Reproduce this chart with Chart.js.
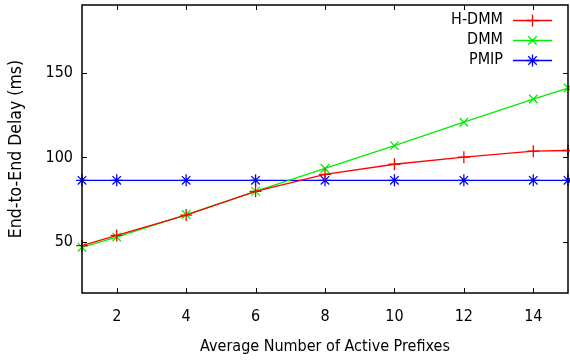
<!DOCTYPE html>
<html>
<head>
<meta charset="utf-8">
<script src="https://cdn.jsdelivr.net/npm/chart.js@4/dist/chart.umd.min.js"></script>
<style>
  html, body { margin: 0; padding: 0; background: #fff; }
  #wrap { width: 570px; height: 360px; }
</style>
</head>
<body>
<div id="wrap"><canvas id="chart" width="570" height="360"></canvas></div>
<script>
// ---------------- DATA ----------------
const prefixes = [1, 2, 4, 6, 8, 10, 12, 14, 15];
const hdmm = [48, 54, 66, 80, 90, 96, 100.2, 103.7, 104.1];
const dmm = [47, 53, 66.3, 80, 93.5, 107, 120.8, 134.5, 141];
const pmip = [86.5, 86.5, 86.5, 86.5, 86.5, 86.5, 86.5, 86.5, 86.5];
const xTicks = [2, 4, 6, 8, 10, 12, 14];
const yTicks = [50, 100, 150];

const FONT = "'DejaVu Sans Condensed', 'DejaVu Sans', sans-serif";

function toPoints(ys) {
  return prefixes.map((x, i) => ({ x: x, y: ys[i] }));
}

function series(label, ys, color, style) {
  return {
    label,
    data: toPoints(ys),
    borderColor: color,
    backgroundColor: color,
    borderWidth: 1.3,
    pointStyle: style,
    pointRadius: 6,
    pointBorderWidth: 1.3,
    pointBorderColor: color,
    fill: false,
    tension: 0,
    clip: false,
  };
}

// ---------------- FRAME + TICKS + LEGEND ----------------
const framePlugin = {
  id: "frame",
  afterDatasetsDraw(chart) {
    const { ctx, chartArea: a, scales } = chart;
    ctx.save();
    ctx.strokeStyle = "#000";
    ctx.lineWidth = 1.5;
    ctx.strokeRect(a.left, a.top, a.right - a.left, a.bottom - a.top);

    // inward ticks on all four sides
    const len = 5;
    ctx.lineWidth = 1;
    ctx.beginPath();
    xTicks.forEach((t) => {
      const px = Math.round(scales.x.getPixelForValue(t)) + 0.5;
      ctx.moveTo(px, a.bottom);
      ctx.lineTo(px, a.bottom - len);
      ctx.moveTo(px, a.top);
      ctx.lineTo(px, a.top + len);
    });
    yTicks.forEach((t) => {
      const py = Math.round(scales.y.getPixelForValue(t)) + 0.5;
      ctx.moveTo(a.left, py);
      ctx.lineTo(a.left + len, py);
      ctx.moveTo(a.right, py);
      ctx.lineTo(a.right - len, py);
    });
    ctx.stroke();

    // legend, top right inside plot
    const textRight = 503;
    const lineX0 = 513;
    const lineX1 = 552;
    ctx.font = "16px " + FONT;
    ctx.textAlign = "right";
    ctx.textBaseline = "middle";
    chart.data.datasets.forEach((ds, i) => {
      const y = 20 + i * 20;
      ctx.fillStyle = "#000";
      ctx.fillText(ds.label, textRight, y);
      ctx.strokeStyle = ds.borderColor;
      ctx.lineWidth = 1.3;
      ctx.beginPath();
      ctx.moveTo(lineX0, y + 0.5);
      ctx.lineTo(lineX1, y + 0.5);
      ctx.stroke();
      Chart.helpers.drawPoint(ctx, {
        pointStyle: ds.pointStyle,
        radius: 6,
        borderWidth: 1.3,
      }, (lineX0 + lineX1) / 2, y + 0.5);
    });
    ctx.restore();
  },
};

// ---------------- CHART ----------------
new Chart(document.getElementById("chart"), {
  type: "line",
  data: {
    datasets: [
      series("H-DMM", hdmm, "#ff0000", "cross"),
      series("DMM", dmm, "#00ee00", "crossRot"),
      series("PMIP", pmip, "#0000ff", "star"),
    ],
  },
  options: {
    responsive: false,
    animation: false,
    layout: { autoPadding: false, padding: { top: 5, right: 2, left: 0, bottom: 0 } },
    plugins: {
      legend: { display: false },
      tooltip: { enabled: false },
    },
    scales: {
      x: {
        type: "linear",
        min: 1,
        max: 15,
        afterBuildTicks: (s) => { s.ticks = xTicks.map((v) => ({ value: v })); },
        afterFit: (s) => {
          s.height = 67;
          s.paddingLeft = 0;
          s.paddingRight = 0;
        },
        grid: { display: false, drawTicks: false },
        border: { display: false },
        ticks: {
          color: "#000",
          font: { family: FONT, size: 16 },
          padding: 14,
          maxRotation: 0,
        },
        title: {
          display: true,
          text: "Average Number of Active Prefixes",
          color: "#000",
          font: { family: FONT, size: 16 },
          padding: { top: 4 },
        },
      },
      y: {
        min: 20,
        max: 190,
        afterBuildTicks: (s) => { s.ticks = yTicks.map((v) => ({ value: v })); },
        afterFit: (s) => {
          s.width = 82;
          s.paddingTop = 0;
          s.paddingBottom = 0;
        },
        grid: { display: false, drawTicks: false },
        border: { display: false },
        ticks: {
          color: "#000",
          font: { family: FONT, size: 16 },
          padding: 9,
        },
        title: {
          display: true,
          text: "End-to-End Delay (ms)",
          color: "#000",
          font: { family: FONT, size: 17.5 },
          padding: { top: 6, bottom: 2 },
        },
      },
    },
  },
  plugins: [framePlugin],
});
</script>
</body>
</html>
